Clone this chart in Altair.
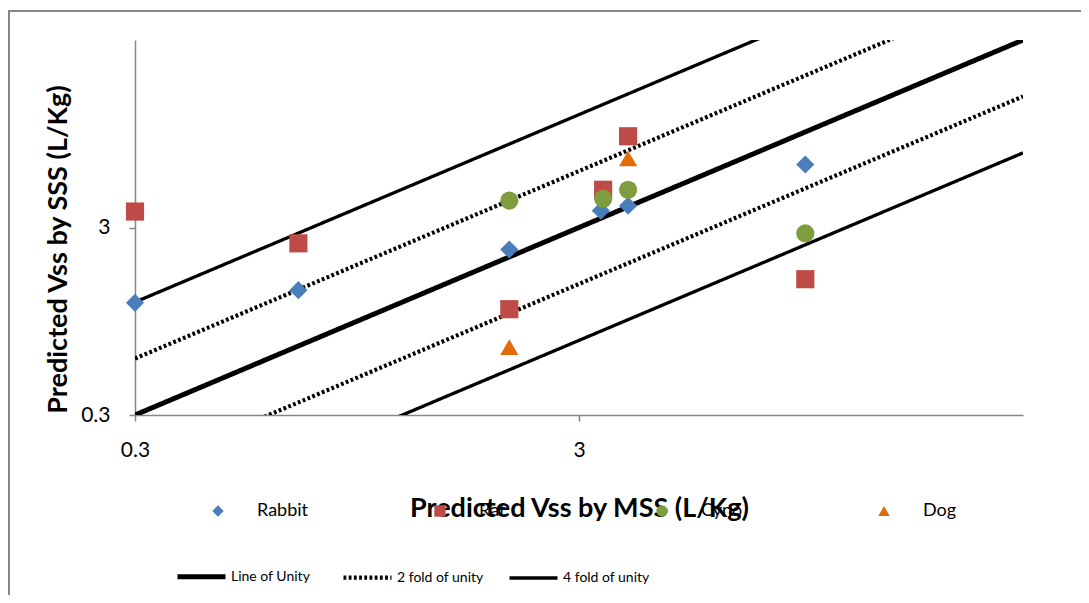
import altair as alt
import pandas as pd

# ---- data ----
species_order = ["Rabbit", "Rat", "Cyno", "Dog"]
species_colors = ["#4A7EBB", "#BE4B48", "#7F9C3E", "#E36C09"]
species_shapes = ["diamond", "square", "circle", "triangle-up"]

rabbit_x = [0.3, 0.70, 2.09, 3.36, 3.87, 9.7]
rabbit_y = [1.19, 1.39, 2.29, 3.69, 3.92, 6.5]
rat_x = [0.3, 0.70, 2.09, 3.4, 3.87, 9.7]
rat_y = [3.65, 2.47, 1.10, 4.77, 9.2, 1.59]
cyno_x = [2.09, 3.4, 3.87, 9.7]
cyno_y = [4.17, 4.27, 4.77, 2.79]
dog_x = [3.87, 2.09]
dog_y = [7.0, 0.69]

line_kinds = ["Line of Unity", "2 fold of unity", "4 fold of unity"]
line_factors = [1, 2, 0.5, 4, 0.25]
line_factor_kind = ["Line of Unity", "2 fold of unity", "2 fold of unity",
                    "4 fold of unity", "4 fold of unity"]
line_x_ends = [0.3, 30]

axis_ticks = [0.3, 3]
axis_domain = [0.3, 30]

# ---- build tables ----
rows = []
for name, xs, ys in [("Rabbit", rabbit_x, rabbit_y), ("Rat", rat_x, rat_y),
                     ("Cyno", cyno_x, cyno_y), ("Dog", dog_x, dog_y)]:
    for x, y in zip(xs, ys):
        rows.append({"species": name, "mss": x, "sss": y})
pts = pd.DataFrame(rows)

lrows = []
for i, (f, k) in enumerate(zip(line_factors, line_factor_kind)):
    for x in line_x_ends:
        lrows.append({"id": i, "kind": k, "mss": x, "sss": x * f})
lines_df = pd.DataFrame(lrows)

FONT = "Lato"
xscale = alt.Scale(type="log", domain=axis_domain, nice=False)
yscale = alt.Scale(type="log", domain=axis_domain, nice=False)

xaxis = alt.Axis(values=axis_ticks, format="~g", title="Predicted Vss by MSS (L/Kg)",
                 titleX=444, titleY=93, titleAlign="center", titleBaseline="middle",
                 labelPadding=18, labelFlush=False)
yaxis = alt.Axis(values=axis_ticks, format="~g", title="Predicted Vss by SSS (L/Kg)",
                 titleX=-77, titleY=209, titleAlign="center", titleBaseline="middle",
                 labelPadding=19, labelFlush=False)

line_legend = alt.Legend(title=None, orient="none", legendX=40, legendY=510,
                         direction="horizontal", columns=3, gridAlign="all",
                         columnPadding=17, symbolType="stroke", symbolSize=2304,
                         labelFontSize=14, labelFont=FONT, labelOffset=3, padding=0,
                         labelColor="#000000")

lines = alt.Chart(lines_df).mark_line(color="black", clip=True, strokeCap="butt").encode(
    x=alt.X("mss:Q", scale=xscale, axis=xaxis),
    y=alt.Y("sss:Q", scale=yscale, axis=yaxis),
    detail="id:N",
    strokeDash=alt.StrokeDash("kind:N", scale=alt.Scale(domain=line_kinds,
                              range=[[1, 0], [2.8, 2.4], [1, 0]]), legend=line_legend),
    strokeWidth=alt.StrokeWidth("kind:N", scale=alt.Scale(domain=line_kinds,
                                range=[5, 3.3, 1]), legend=line_legend),
)

sp_legend = alt.Legend(title=None, orient="none", legendX=74, legendY=462,
                       direction="horizontal", columns=4, gridAlign="all",
                       columnPadding=122, symbolSize=130, labelFontSize=18,
                       labelFont=FONT, labelOffset=30, padding=0, symbolStrokeWidth=0,
                       labelColor="#000000")

points = alt.Chart(pts).mark_point(filled=True, opacity=1, size=330).encode(
    x=alt.X("mss:Q", scale=xscale),
    y=alt.Y("sss:Q", scale=yscale),
    color=alt.Color("species:N", scale=alt.Scale(domain=species_order, range=species_colors),
                    legend=sp_legend),
    shape=alt.Shape("species:N", scale=alt.Scale(domain=species_order, range=species_shapes),
                    legend=sp_legend),
)

frame = alt.Chart(pd.DataFrame({"a": [0]})).mark_rect(
    fill=None, stroke="#868686", strokeWidth=2).encode(
    x=alt.value(-126), x2=alt.value(980), y=alt.value(-29), y2=alt.value(600))

chart = alt.layer(frame, lines, points).properties(
    width=888, height=375,
    autosize=alt.AutoSizeParams(type="none"),
    padding={"left": 127, "top": 32, "right": 58, "bottom": 180},
).configure_view(stroke=None).configure_axis(
    grid=False, domainColor="#868686", domainWidth=1.5, tickColor="#868686",
    tickSize=6, tickWidth=1.5, labelFont=FONT, labelFontSize=21, labelColor="#000000",
    titleFont=FONT, titleFontSize=27, titleFontWeight="bold", titleColor="#000000",
)

chart.save("out.html", embed_options={"renderer": "svg", "actions": False})
